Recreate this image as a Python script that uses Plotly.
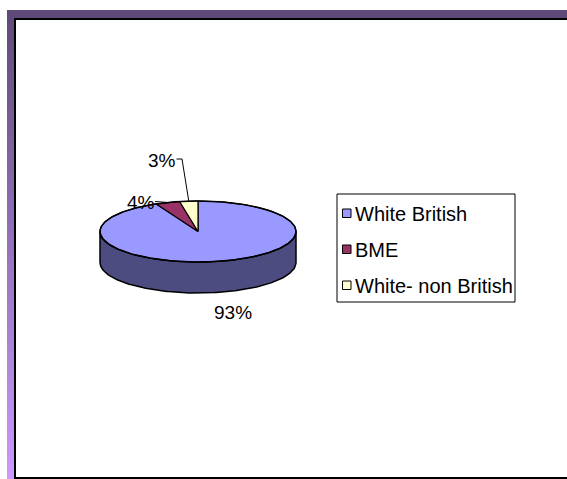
import numpy as np
import plotly.graph_objects as go

# ---- data ----
categories = ["White British", "BME", "White- non British"]
shares = [93, 4, 3]
top_colors = ["#9999FF", "#993366", "#FFFFCC"]
side_colors = ["#4C4C80", "#4D1A33", "#808066"]

# ---- layout parameters (pixel units on hidden axes) ----
W, H = 567, 479
CX, CY, RX, RY, DEPTH = 198, 231.5, 98, 30.5, 31
FONT = "Liberation Sans, Arial, sans-serif"
# label anchor per slice and optional leader-line elbow
label_pos = [(232.5, 312), (141, 202), (161.5, 160)]
leader_elbow = [None, (155, 201.5), (182, 159)]
leader_start = [None, (155, 201.5), (176.5, 159)]


def rim(t0, t1, dy=0.0, n=160):
    t = np.radians(np.linspace(t0, t1, n))
    return CX + RX * np.sin(t), CY - RY * np.cos(t) + dy


fig = go.Figure()

# slice angles, clockwise from 12 o'clock
total = float(sum(shares))
bounds = np.concatenate([[0], np.cumsum(shares)]) / total * 360.0

# visible front walls of the 3D pie
for i, cat in enumerate(categories):
    a, b = max(bounds[i], 90.0), min(bounds[i + 1], 270.0)
    if a >= b:
        continue
    tx, ty = rim(a, b)
    bx, by = rim(b, a, dy=DEPTH)
    fig.add_trace(go.Scatter(
        x=np.concatenate([tx, bx, tx[:1]]), y=np.concatenate([ty, by, ty[:1]]),
        mode="lines", fill="toself", fillcolor=side_colors[i],
        line=dict(color="black", width=1.5), hoverinfo="skip", showlegend=False))

# top faces
for i, cat in enumerate(categories):
    rx_, ry_ = rim(bounds[i], bounds[i + 1])
    fig.add_trace(go.Scatter(
        x=np.concatenate([[CX], rx_, [CX]]), y=np.concatenate([[CY], ry_, [CY]]),
        mode="lines", fill="toself", fillcolor=top_colors[i],
        line=dict(color="black", width=1.2), hoverinfo="skip", showlegend=False))

# outer rim outline
ox, oy = rim(0, 360, n=400)
fig.add_trace(go.Scatter(x=ox, y=oy, mode="lines", line=dict(color="black", width=1.5),
                         hoverinfo="skip", showlegend=False))

# percentage labels and leader lines
annotations = []
for i, v in enumerate(shares):
    lx, ly = label_pos[i]
    annotations.append(dict(x=lx, y=ly, xref="x", yref="y", text=f"{v}%", showarrow=False,
                            xanchor="center", yanchor="middle",
                            font=dict(family=FONT, size=19, color="black")))
    if leader_elbow[i] is not None:
        mid = (bounds[i] + bounds[i + 1]) / 2.0
        mx, my = rim(mid, mid, n=1)
        sx, sy = leader_start[i]
        ex, ey = leader_elbow[i]
        fig.add_trace(go.Scatter(x=[sx, ex, mx[0]], y=[sy, ey, my[0]], mode="lines",
                                 line=dict(color="black", width=1), hoverinfo="skip",
                                 showlegend=False))

# frame: left gradient bar
fig.add_trace(go.Scatter(
    x=[7, 14, 14, 7, 7], y=[10, 10, H, H, 10], mode="lines", fill="toself",
    line=dict(width=0, color="rgba(0,0,0,0)"),
    fillgradient=dict(type="vertical", start=10, stop=H,
                      colorscale=[[0, "#5E4A78"], [1, "#CC99FF"]]),
    hoverinfo="skip", showlegend=False))

shapes = [
    dict(type="rect", x0=7, x1=W, y0=10, y1=18, fillcolor="#5E4A78", line_width=0),
    dict(type="rect", x0=14, x1=W, y0=18, y1=20, fillcolor="black", line_width=0),
    dict(type="rect", x0=14, x1=16, y0=18, y1=H, fillcolor="black", line_width=0),
    dict(type="rect", x0=14, x1=W, y0=477, y1=H, fillcolor="black", line_width=0),
]

# legend box
LX0, LX1, LY0, LY1 = 337, 515, 194, 302
shapes.append(dict(type="rect", x0=LX0, x1=LX1, y0=LY0, y1=LY1, fillcolor="white",
                   line=dict(color="black", width=1)))
legend_y = [213.5, 249.5, 285.5]
for i, cat in enumerate(categories):
    yy = legend_y[i]
    shapes.append(dict(type="rect", x0=342.5, x1=351, y0=yy - 4.5, y1=yy + 4,
                       fillcolor=top_colors[i], line=dict(color="black", width=1)))
    annotations.append(dict(x=352.5, y=yy, xref="x", yref="y", text=cat, showarrow=False,
                            xanchor="left", yanchor="middle",
                            font=dict(family=FONT, size=20, color="black")))

fig.update_layout(
    width=W, height=H, autosize=False,
    margin=dict(l=0, r=0, t=0, b=0, pad=0),
    paper_bgcolor="white", plot_bgcolor="white",
    xaxis=dict(range=[0, W], visible=False, fixedrange=True),
    yaxis=dict(range=[H, 0], visible=False, fixedrange=True),
    shapes=shapes, annotations=annotations, showlegend=False,
)

fig.write_html("out.html")
